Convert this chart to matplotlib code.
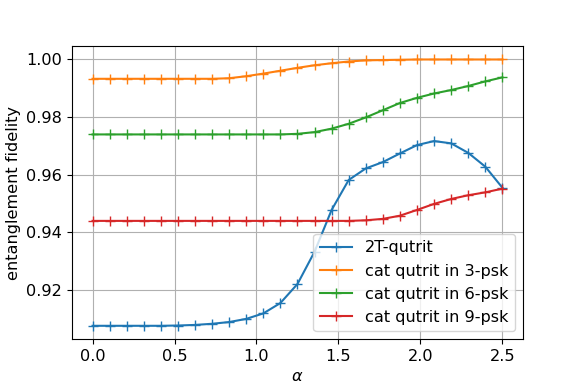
import numpy as np
import matplotlib
matplotlib.use("Agg")
import matplotlib.pyplot as plt

alpha = np.linspace(0, 2.5, 25)

fid_2t = [0.9076, 0.9076, 0.9076, 0.9076, 0.9076, 0.9077, 0.9079, 0.9083,
          0.9089, 0.9100, 0.9119, 0.9155, 0.9221, 0.9333, 0.9478, 0.9582,
          0.9622, 0.9644, 0.9674, 0.9703, 0.9717, 0.9709, 0.9676, 0.9628,
          0.9555]
fid_3psk = [0.9933, 0.9933, 0.9933, 0.9933, 0.9933, 0.9933, 0.9933, 0.9933,
            0.9935, 0.9942, 0.9951, 0.9961, 0.9971, 0.9980, 0.9987, 0.9993,
            0.9997, 0.9998, 0.9999, 1.0000, 1.0000, 1.0000, 1.0000, 1.0000,
            1.0000]
fid_6psk = [0.9740, 0.9740, 0.9740, 0.9740, 0.9740, 0.9740, 0.9740, 0.9740,
            0.9740, 0.9740, 0.9740, 0.9740, 0.9742, 0.9748, 0.9760, 0.9777,
            0.9799, 0.9824, 0.9849, 0.9867, 0.9882, 0.9894, 0.9908, 0.9924,
            0.9938]
fid_9psk = [0.9440, 0.9440, 0.9440, 0.9440, 0.9440, 0.9440, 0.9440, 0.9440,
            0.9440, 0.9440, 0.9440, 0.9440, 0.9440, 0.9440, 0.9440, 0.9440,
            0.9442, 0.9447, 0.9458, 0.9478, 0.9499, 0.9516, 0.9529, 0.9539,
            0.9552]

labels = ["2T-qutrit", "cat qutrit in 3-psk", "cat qutrit in 6-psk",
          "cat qutrit in 9-psk"]

plt.rcParams["font.size"] = 11.6

fig = plt.figure(figsize=(5.81, 3.88), dpi=100)
ax = fig.add_subplot(111)
fig.subplots_adjust(left=0.124, right=0.900, top=0.881, bottom=0.126)

for ys, lab in zip([fid_2t, fid_3psk, fid_6psk, fid_9psk], labels):
    ax.plot(alpha, ys, marker="+", markersize=7, label=lab)

ax.set_xlabel(r"$\alpha$")
ax.set_ylabel("entanglement fidelity")
ax.grid(True)
ax.legend(loc="lower right")

plt.savefig("out.png")
